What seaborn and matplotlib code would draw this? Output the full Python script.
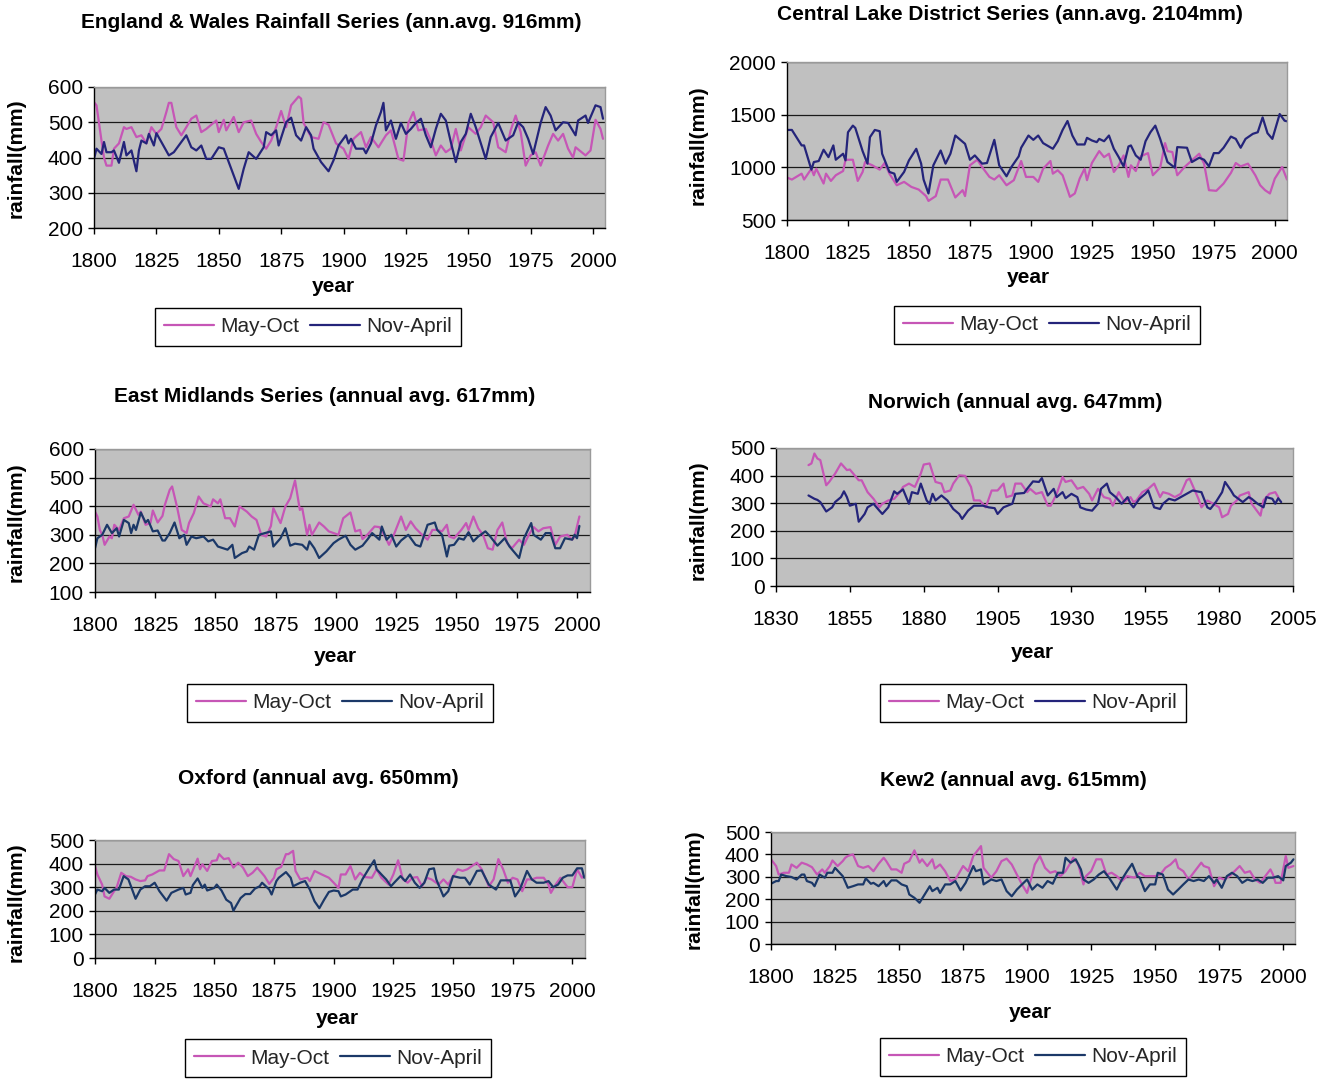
import matplotlib
matplotlib.use("Agg")
import matplotlib.pyplot as plt
import seaborn as sns
import pandas as pd
from matplotlib.lines import Line2D

# ---------------- data (year, rainfall mm) ----------------
ew_may = [(1800,557),(1801,548),(1803,448),(1804,400),(1805,377),(1807,377),(1808,425),(1810,440),(1812,486),(1813,481),
          (1815,486),(1817,458),(1819,463),(1821,440),(1823,486),(1825,467),(1827,481),(1829,529),(1830,555),(1831,555),
          (1833,486),(1835,463),(1837,486),(1839,510),(1841,519),(1843,472),(1845,481),(1849,505),(1850,472),(1852,507),
          (1853,477),(1856,515),(1858,472),(1860,500),(1863,505),(1865,467),(1867,444),(1869,425),(1871,448),(1873,486),
          (1875,532),(1877,486),(1879,548),(1882,573),(1883,567),(1884,498),(1887,458),(1890,453),(1892,500),(1894,493),
          (1897,440),(1900,425),(1902,396),(1904,453),(1907,472),(1909,429),(1911,458),(1914,429),(1917,463),(1919,477),
          (1922,396),(1924,391),(1926,498),(1928,529),(1930,477),(1933,481),(1935,448),(1937,406),(1939,434),(1941,415),
          (1943,425),(1945,481),(1947,420),(1950,486),(1953,467),(1955,486),(1957,519),(1960,500),(1962,429),(1965,415),
          (1967,477),(1969,519),(1971,472),(1973,377),(1975,406),(1977,415),(1979,377),(1982,434),(1984,467),(1986,448),
          (1988,467),(1990,425),(1992,400),(1993,429),(1997,406),(1999,420),(2001,507),(2003,481),(2004,453)]
ew_nov = [(1800,396),(1801,425),(1803,410),(1804,444),(1805,415),(1807,415),(1808,420),(1810,385),(1812,444),(1813,406),
          (1815,420),(1817,361),(1818,420),(1819,448),(1821,440),(1822,467),(1824,434),(1825,469),(1827,444),(1830,406),
          (1832,415),(1835,444),(1837,463),(1839,429),(1841,420),(1843,434),(1845,396),(1847,396),(1850,429),(1852,425),
          (1854,387),(1856,349),(1858,311),(1860,368),(1862,415),(1865,396),(1868,429),(1869,472),(1871,463),(1873,477),
          (1874,434),(1877,500),(1879,513),(1881,463),(1883,448),(1885,486),(1887,463),(1888,425),(1891,387),(1894,361),
          (1896,392),(1898,434),(1901,463),(1902,440),(1903,453),(1905,425),(1908,425),(1909,412),(1911,440),(1913,491),
          (1915,529),(1916,555),(1917,477),(1919,505),(1921,453),(1923,498),(1925,467),(1927,481),(1929,498),(1931,510),
          (1933,463),(1935,429),(1937,481),(1939,524),(1941,505),(1943,444),(1945,387),(1947,444),(1949,467),(1951,524),
          (1953,486),(1957,396),(1959,458),(1962,498),(1965,448),(1968,463),(1970,500),(1972,486),(1974,453),(1976,410),
          (1979,498),(1981,543),(1983,519),(1985,477),(1988,500),(1990,498),(1993,463),(1994,505),(1997,519),(1998,498),
          (2001,548),(2003,543),(2004,510)]

cld_may = [(1800,903),(1802,884),(1806,940),(1807,884),(1810,987),(1811,925),(1812,987),(1815,846),(1816,940),(1818,871),
           (1820,925),(1823,965),(1824,1072),(1827,1072),(1829,871),(1831,956),(1832,1050),(1835,1019),(1838,978),(1840,1041),
           (1842,940),(1845,830),(1848,862),(1851,814),(1854,789),(1857,727),(1858,681),(1861,727),(1863,884),(1866,884),
           (1869,714),(1872,783),(1873,727),(1875,1019),(1878,1072),(1880,1003),(1883,909),(1885,884),(1887,925),(1890,830),
           (1893,878),(1896,1060),(1898,909),(1901,909),(1903,862),(1905,987),(1908,1060),(1909,940),(1911,972),(1913,925),
           (1916,720),(1918,752),(1920,893),(1922,987),(1923,878),(1925,1041),(1928,1154),(1930,1097),(1932,1129),(1934,956),
           (1936,1019),(1938,1113),(1940,909),(1941,1019),(1943,965),(1945,1104),(1948,1135),(1950,925),(1953,997),(1955,1230),
           (1956,1154),(1958,1145),(1960,925),(1963,1003),(1966,1066),(1969,1129),(1971,1035),(1973,783),(1976,777),(1979,846),
           (1982,947),(1984,1041),(1986,1009),(1989,1035),(1992,925),(1994,830),(1996,783),(1998,752),(2000,893),(2003,1003),
           (2005,884)]
cld_nov = [(1800,1355),(1802,1355),(1806,1208),(1807,1208),(1810,978),(1811,1050),(1813,1060),(1815,1167),(1817,1097),(1819,1208),
           (1820,1072),(1823,1129),(1824,1066),(1825,1333),(1827,1396),(1828,1374),(1831,1154),(1833,1035),(1834,1286),(1836,1355),
           (1838,1343),(1839,1129),(1842,956),(1844,940),(1845,862),(1848,956),(1850,1066),(1853,1176),(1855,1035),(1856,884),
           (1858,752),(1860,1019),(1863,1160),(1865,1035),(1867,1129),(1869,1302),(1873,1223),(1875,1072),(1877,1113),(1880,1035),
           (1882,1041),(1885,1261),(1887,1019),(1890,915),(1892,1003),(1895,1104),(1896,1186),(1899,1302),(1901,1261),(1903,1302),
           (1905,1230),(1909,1176),(1911,1248),(1913,1355),(1915,1440),(1917,1302),(1919,1217),(1922,1217),(1923,1280),(1925,1255),
           (1927,1239),(1928,1270),(1930,1248),(1932,1302),(1934,1176),(1936,1097),(1938,1009),(1940,1198),(1941,1208),(1943,1113),
           (1945,1072),(1947,1248),(1949,1333),(1951,1396),(1953,1270),(1956,1050),(1959,997),(1960,1192),(1964,1186),(1966,1050),
           (1969,1091),(1971,1072),(1973,1009),(1975,1135),(1977,1135),(1979,1186),(1982,1292),(1984,1270),(1986,1186),(1988,1270),
           (1991,1318),(1993,1333),(1995,1474),(1997,1324),(1999,1270),(2002,1506),(2004,1443),(2005,1437)]

em_may = [(1800,381),(1801,364),(1802,317),(1803,300),(1804,265),(1806,294),(1807,288),(1808,335),(1810,317),(1812,358),
          (1814,364),(1816,405),(1818,370),(1819,381),(1821,335),(1823,341),(1824,385),(1826,343),(1828,366),(1829,405),
          (1831,457),(1832,469),(1834,399),(1836,317),(1838,306),(1839,341),(1841,376),(1843,434),(1845,410),(1848,399),
          (1849,424),(1851,410),(1852,424),(1854,358),(1856,358),(1858,329),(1860,399),(1863,381),(1865,364),(1867,352),
          (1869,300),(1871,294),(1873,331),(1874,393),(1877,341),(1879,399),(1881,428),(1883,490),(1885,387),(1886,393),
          (1888,300),(1889,335),(1890,300),(1893,343),(1895,329),(1897,312),(1899,306),(1901,300),(1903,358),(1906,378),
          (1908,312),(1910,317),(1911,285),(1913,300),(1916,329),(1918,327),(1920,300),(1922,265),(1924,300),(1927,364),
          (1929,317),(1931,347),(1933,323),(1935,306),(1938,283),(1940,317),(1942,317),(1944,312),(1946,335),(1947,294),
          (1949,288),(1952,317),(1954,341),(1955,317),(1957,364),(1959,323),(1961,300),(1963,253),(1965,248),(1967,317),
          (1969,343),(1971,271),(1973,253),(1976,283),(1978,265),(1980,300),(1982,327),(1984,312),(1986,323),(1989,327),
          (1991,265),(1993,294),(1996,300),(1998,283),(1999,294),(2001,364)]
em_nov = [(1800,253),(1801,288),(1803,300),(1805,335),(1807,306),(1809,323),(1810,294),(1812,352),(1814,341),(1815,306),
          (1816,335),(1817,317),(1819,378),(1821,343),(1822,352),(1824,312),(1826,315),(1828,280),(1829,280),(1831,306),
          (1833,343),(1835,288),(1837,300),(1838,265),(1840,294),(1842,288),(1845,294),(1847,277),(1849,283),(1851,259),
          (1855,248),(1857,265),(1858,219),(1861,236),(1863,242),(1864,259),(1866,248),(1868,300),(1873,312),(1874,259),
          (1877,288),(1879,323),(1881,262),(1883,269),(1886,265),(1888,248),(1889,277),(1891,253),(1893,219),(1896,242),
          (1899,271),(1901,283),(1904,297),(1906,265),(1908,248),(1911,262),(1913,283),(1915,306),(1918,283),(1919,329),
          (1921,283),(1923,300),(1925,259),(1927,280),(1930,300),(1933,265),(1935,259),(1938,335),(1941,343),(1942,317),
          (1944,300),(1946,224),(1947,262),(1949,265),(1951,288),(1953,283),(1955,309),(1957,277),(1959,294),(1962,312),
          (1964,294),(1967,262),(1970,288),(1972,259),(1976,219),(1978,288),(1981,341),(1982,300),(1985,283),(1987,306),
          (1989,306),(1991,253),(1993,253),(1995,288),(1998,283),(1999,300),(2000,288),(2001,331)]

nw_may = [(1841,438),(1842,444),(1843,480),(1844,462),(1845,456),(1847,365),(1848,377),(1850,407),(1852,444),(1854,420),
          (1855,422),(1858,383),(1859,383),(1861,340),(1863,316),(1865,285),(1866,298),(1868,310),(1870,316),(1872,340),
          (1873,359),(1875,371),(1877,359),(1879,407),(1880,440),(1882,444),(1884,377),(1886,371),(1887,340),(1889,346),
          (1890,371),(1892,401),(1894,399),(1896,359),(1897,310),(1899,310),(1901,285),(1903,346),(1905,346),(1907,371),
          (1908,322),(1910,328),(1911,371),(1913,371),(1915,340),(1916,352),(1918,334),(1920,340),(1922,291),(1923,291),
          (1925,334),(1927,395),(1928,377),(1930,383),(1932,352),(1934,359),(1936,334),(1937,310),(1939,352),(1941,322),
          (1943,316),(1944,291),(1946,340),(1948,304),(1950,322),(1951,304),(1952,310),(1954,340),(1956,352),(1958,371),
          (1960,322),(1961,340),(1963,334),(1965,322),(1967,334),(1969,383),(1970,389),(1973,316),(1974,285),(1976,310),
          (1978,298),(1980,285),(1981,249),(1983,261),(1984,291),(1986,310),(1987,328),(1990,340),(1991,298),(1994,255),
          (1995,310),(1997,334),(1999,340),(2000,322)]
nw_nov = [(1841,328),(1843,316),(1844,312),(1845,304),(1847,270),(1849,285),(1850,304),(1852,322),(1853,343),(1854,322),
          (1855,291),(1857,298),(1858,233),(1860,261),(1861,285),(1863,298),(1865,273),(1866,261),(1868,285),(1870,343),
          (1871,334),(1873,350),(1875,298),(1876,340),(1878,334),(1879,371),(1881,310),(1882,298),(1883,334),(1884,310),
          (1886,328),(1888,310),(1890,279),(1892,261),(1893,243),(1895,273),(1897,291),(1900,291),(1902,285),(1904,282),
          (1905,261),(1907,285),(1910,298),(1911,334),(1914,337),(1915,352),(1917,379),(1919,377),(1920,391),(1922,328),
          (1924,352),(1925,322),(1927,340),(1928,318),(1930,334),(1932,322),(1933,285),(1935,277),(1937,273),(1939,298),
          (1940,352),(1942,371),(1943,340),(1945,322),(1947,298),(1949,322),(1950,298),(1951,285),(1953,316),(1955,334),
          (1956,346),(1958,285),(1960,279),(1961,298),(1963,316),(1965,310),(1967,322),(1969,334),(1971,346),(1974,340),
          (1976,285),(1977,279),(1979,306),(1981,340),(1982,377),(1984,346),(1985,328),(1988,304),(1990,322),(1991,316),
          (1993,298),(1995,285),(1996,322),(1998,316),(1999,298),(2000,318),(2001,304)]

ox_may = [(1800,390),(1801,354),(1803,311),(1804,261),(1806,251),(1808,283),(1809,297),(1811,361),(1813,347),(1815,344),
          (1817,333),(1819,326),(1821,329),(1822,347),(1824,354),(1827,371),(1829,371),(1831,440),(1833,419),(1835,411),
          (1837,347),(1839,376),(1840,347),(1843,421),(1844,376),(1845,397),(1847,369),(1849,411),(1851,414),(1852,440),
          (1854,419),(1856,423),(1858,383),(1860,404),(1862,383),(1864,347),(1866,361),(1868,383),(1871,347),(1873,314),
          (1875,340),(1876,376),(1878,386),(1880,440),(1881,440),(1883,454),(1884,369),(1886,333),(1889,340),(1890,326),
          (1892,369),(1895,354),(1898,340),(1900,319),(1902,297),(1903,354),(1905,354),(1907,390),(1909,333),(1911,361),
          (1913,343),(1916,340),(1918,376),(1920,340),(1923,311),(1925,354),(1927,414),(1929,333),(1931,319),(1933,340),
          (1935,343),(1937,304),(1939,340),(1941,333),(1944,311),(1946,333),(1948,311),(1950,347),(1952,376),(1954,369),
          (1956,376),(1958,390),(1960,404),(1962,376),(1965,304),(1967,333),(1969,419),(1971,376),(1973,319),(1975,340),
          (1977,333),(1979,283),(1981,333),(1983,333),(1985,340),(1988,340),(1990,311),(1991,276),(1993,311),(1995,340),
          (1998,300),(2000,300),(2002,376),(2004,340),(2005,347)]
ox_nov = [(1800,269),(1801,290),(1803,283),(1804,297),(1806,276),(1808,290),(1810,290),(1812,347),(1814,333),(1817,251),
          (1819,290),(1821,304),(1823,304),(1825,319),(1827,283),(1830,243),(1832,276),(1835,290),(1837,297),(1838,269),
          (1840,276),(1841,309),(1843,337),(1845,297),(1846,311),(1847,286),(1850,297),(1851,311),(1853,286),(1855,247),
          (1857,233),(1858,200),(1859,219),(1861,254),(1863,271),(1865,271),(1867,294),(1869,304),(1870,319),(1873,290),
          (1874,269),(1876,326),(1877,340),(1880,364),(1882,340),(1883,304),(1886,319),(1888,326),(1890,290),(1892,240),
          (1894,211),(1896,247),(1898,280),(1900,286),(1902,283),(1903,261),(1905,269),(1908,290),(1910,290),(1912,333),
          (1915,383),(1917,414),(1918,376),(1920,354),(1922,333),(1924,304),(1926,326),(1928,347),(1930,326),(1932,354),
          (1934,319),(1936,297),(1938,319),(1940,376),(1942,380),(1943,333),(1946,261),(1948,283),(1950,347),(1953,340),
          (1955,340),(1957,311),(1960,369),(1962,371),(1965,311),(1968,290),(1970,329),(1974,329),(1976,261),(1978,290),
          (1981,369),(1983,333),(1985,319),(1988,319),(1990,326),(1992,300),(1994,311),(1996,340),(1998,350),(2000,350),
          (2002,380),(2004,380),(2005,340)]

kew_may = [(1800,378),(1802,348),(1803,310),(1805,318),(1807,318),(1808,355),(1810,340),(1812,363),(1814,355),(1816,343),
           (1818,310),(1820,333),(1821,318),(1823,348),(1824,373),(1826,348),(1828,370),(1829,385),(1830,393),(1832,400),
           (1834,348),(1836,340),(1838,348),(1840,325),(1842,358),(1844,385),(1845,370),(1847,333),(1849,333),(1851,318),
           (1852,358),(1854,370),(1856,418),(1858,363),(1859,378),(1861,348),(1863,378),(1864,337),(1866,355),(1868,325),
           (1870,281),(1872,288),(1875,348),(1877,325),(1879,393),(1882,437),(1883,340),(1886,296),(1888,325),(1890,370),
           (1892,381),(1894,355),(1896,310),(1898,266),(1900,228),(1902,310),(1903,355),(1905,393),(1907,340),(1909,318),
           (1911,325),(1913,303),(1915,325),(1917,363),(1918,385),(1920,355),(1922,266),(1923,303),(1925,325),(1927,378),
           (1929,378),(1931,310),(1933,318),(1935,303),(1937,281),(1939,303),(1942,296),(1944,318),(1946,303),(1948,303),
           (1950,303),(1952,310),(1954,340),(1956,355),(1958,378),(1959,340),(1961,325),(1963,288),(1965,318),(1968,363),
           (1969,348),(1971,340),(1973,258),(1975,296),(1977,288),(1979,303),(1981,325),(1983,348),(1985,318),(1987,325),
           (1989,288),(1991,273),(1993,303),(1995,333),(1996,310),(1997,273),(1999,273),(2001,393),(2002,340),(2004,348)]
kew_nov = [(1800,269),(1802,281),(1803,281),(1804,310),(1806,303),(1808,299),(1810,288),(1812,310),(1813,310),(1814,281),
           (1816,273),(1817,258),(1819,310),(1821,296),(1822,318),(1824,318),(1825,340),(1828,303),(1830,251),(1832,258),
           (1834,266),(1836,266),(1837,293),(1839,269),(1840,273),(1842,258),(1844,281),(1845,258),(1847,284),(1849,284),
           (1851,266),(1853,258),(1854,221),(1856,206),(1858,184),(1860,221),(1862,258),(1863,236),(1865,251),(1866,228),
           (1868,266),(1870,266),(1872,281),(1874,239),(1876,273),(1879,348),(1880,325),(1882,333),(1883,266),(1886,288),
           (1888,281),(1890,288),(1892,236),(1894,213),(1896,243),(1898,266),(1900,288),(1902,243),(1904,266),(1906,251),
           (1908,281),(1910,269),(1912,318),(1914,318),(1915,385),(1917,363),(1919,378),(1921,333),(1922,288),(1924,273),
           (1926,288),(1928,310),(1930,325),(1932,296),(1935,243),(1937,288),(1939,325),(1941,358),(1943,303),(1944,296),
           (1946,236),(1948,266),(1950,266),(1951,318),(1953,310),(1955,243),(1957,221),(1959,243),(1961,266),(1963,288),
           (1965,281),(1967,288),(1969,281),(1971,303),(1973,273),(1974,288),(1976,251),(1978,303),(1980,318),(1982,303),
           (1984,273),(1986,288),(1988,281),(1990,288),(1992,273),(1994,296),(1996,296),(1998,303),(2000,284),(2001,348),
           (2003,363),(2004,378)]

titles = ["England & Wales Rainfall Series (ann.avg. 916mm)",
          "Central Lake District Series (ann.avg. 2104mm)",
          "East Midlands Series (annual avg. 617mm)",
          "Norwich (annual avg. 647mm)",
          "Oxford (annual avg. 650mm)",
          "Kew2 (annual avg. 615mm)"]
series_names = ["May-Oct", "Nov-April"]
xticks_1800 = [1800, 1825, 1850, 1875, 1900, 1925, 1950, 1975, 2000]
xticks_1830 = [1830, 1855, 1880, 1905, 1930, 1955, 1980, 2005]
yticks_600_200 = [200, 300, 400, 500, 600]
yticks_2000 = [500, 1000, 1500, 2000]
yticks_600_100 = [100, 200, 300, 400, 500, 600]
yticks_500 = [0, 100, 200, 300, 400, 500]

# ---------------- style ----------------
sns.set_theme(style="white")
plt.rcParams['font.family'] = ['Liberation Sans', 'DejaVu Sans']

W, H = 1333, 1082
fig = plt.figure(figsize=(W / 100, H / 100), dpi=100)
fig.patch.set_facecolor("white")

MAY_C = "#C656B6"
NAVY_A = "#24247A"
NAVY_B = "#1B3868"

def fx(px):
    return px / W

def fy(py):
    return 1 - py / H

panels = [
    dict(may=ew_may, nov=ew_nov, title=titles[0], t_xy=(331, 22), rect=(94, 87, 605, 228),
         xlim=(1800, 2004.8), xt=xticks_1800, ylim=(200, 600), yt=yticks_600_200,
         yl_xy=(16, 158), xl_xy=(333, 286), lg_xy=(308, 327), navy=NAVY_A),
    dict(may=cld_may, nov=cld_nov, title=titles[1], t_xy=(1010, 15), rect=(787, 62, 1287, 220),
         xlim=(1800, 2005), xt=xticks_1800, ylim=(500, 2000), yt=yticks_2000,
         yl_xy=(698, 145), xl_xy=(1028, 278), lg_xy=(1047, 325), navy=NAVY_A),
    dict(may=em_may, nov=em_nov, title=titles[2], t_xy=(325, 396), rect=(95, 449, 590, 592),
         xlim=(1800, 2005.4), xt=xticks_1800, ylim=(100, 600), yt=yticks_600_100,
         yl_xy=(16, 522), xl_xy=(335, 656), lg_xy=(340, 703), navy=NAVY_B),
    dict(may=nw_may, nov=nw_nov, title=titles[3], t_xy=(1015, 402), rect=(776, 448, 1293, 586),
         xlim=(1830, 2005), xt=xticks_1830, ylim=(0, 500), yt=yticks_500,
         yl_xy=(698, 520), xl_xy=(1032, 652), lg_xy=(1033, 703), navy=NAVY_A),
    dict(may=ox_may, nov=ox_nov, title=titles[4], t_xy=(318, 778), rect=(95, 840, 585, 958),
         xlim=(1800, 2005.3), xt=xticks_1800, ylim=(0, 500), yt=yticks_500,
         yl_xy=(16, 902), xl_xy=(337, 1019), lg_xy=(338, 1058), navy=NAVY_B),
    dict(may=kew_may, nov=kew_nov, title=titles[5], t_xy=(1013, 781), rect=(771, 832, 1295, 944),
         xlim=(1800, 2004.6), xt=xticks_1800, ylim=(0, 500), yt=yticks_500,
         yl_xy=(694, 889), xl_xy=(1030, 1012), lg_xy=(1033, 1057), navy=NAVY_B),
]

TICK_FS = 15
for p in panels:
    l, t, r, b = p["rect"]
    ax = fig.add_axes([fx(l), fy(b), (r - l) / W, (b - t) / H])
    rows = [(yr, v, series_names[0]) for yr, v in p["may"]] + \
           [(yr, v, series_names[1]) for yr, v in p["nov"]]
    df = pd.DataFrame(rows, columns=["year", "rainfall", "season"])
    pal = {series_names[0]: MAY_C, series_names[1]: p["navy"]}
    sns.lineplot(data=df, x="year", y="rainfall", hue="season", hue_order=series_names,
                 palette=pal, estimator=None, sort=False, linewidth=1.6, legend=False, ax=ax)
    ax.set_facecolor("#C0C0C0")
    ax.set_xlim(*p["xlim"])
    ax.set_ylim(*p["ylim"])
    ax.set_xticks(p["xt"])
    ax.set_yticks(p["yt"])
    ax.set_xticklabels([str(v) for v in p["xt"]])
    ax.set_yticklabels([str(v) for v in p["yt"]])
    ax.set_xlabel("")
    ax.set_ylabel("")
    ax.set_axisbelow(True)
    ax.yaxis.grid(True, color="#1a1a1a", linewidth=0.9)
    ax.xaxis.grid(False)
    for side in ("left", "bottom"):
        ax.spines[side].set_color("#000000")
        ax.spines[side].set_linewidth(1.0)
    for side in ("top", "right"):
        ax.spines[side].set_color("#9a9a9a")
        ax.spines[side].set_linewidth(1.0)
    ax.tick_params(axis="both", which="major", direction="out", length=4, width=1,
                   color="black", labelsize=TICK_FS, labelcolor="black", bottom=True, left=True)
    ax.tick_params(axis="x", pad=13)
    ax.tick_params(axis="y", pad=4)

    fig.text(fx(p["t_xy"][0]), fy(p["t_xy"][1]), p["title"], ha="center", va="center",
             fontsize=15, fontweight="bold", color="black")
    fig.text(fx(p["yl_xy"][0]), fy(p["yl_xy"][1]), "rainfall(mm)", ha="center", va="center",
             rotation=90, fontsize=15, fontweight="bold", color="black")
    fig.text(fx(p["xl_xy"][0]), fy(p["xl_xy"][1]), "year", ha="center", va="center",
             fontsize=15, fontweight="bold", color="black")

    handles = [Line2D([], [], color=MAY_C, lw=1.6), Line2D([], [], color=p["navy"], lw=1.6)]
    leg = ax.legend(handles, series_names, loc="center", ncol=2,
                    bbox_to_anchor=(fx(p["lg_xy"][0]), fy(p["lg_xy"][1])),
                    bbox_transform=fig.transFigure, frameon=True, fancybox=False,
                    fontsize=15, handlelength=2.4, handletextpad=0.3, columnspacing=0.5,
                    borderpad=0.45, borderaxespad=0.0)
    fr = leg.get_frame()
    fr.set_edgecolor("black")
    fr.set_linewidth(1.0)
    fr.set_facecolor("white")
    fr.set_alpha(1.0)

fig.savefig("out.png", dpi=100, facecolor="white")
